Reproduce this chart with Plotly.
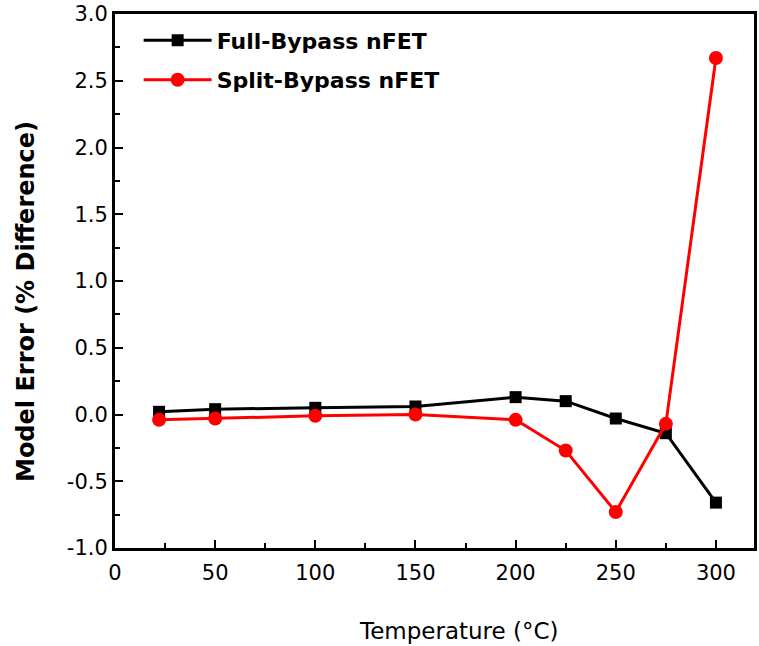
import plotly.graph_objects as go

# Temperature sweep (°C) and model error (% difference) per device type
temperature = [22, 50, 100, 150, 200, 225, 250, 275, 300]
full_bypass = [0.02, 0.04, 0.05, 0.06, 0.13, 0.10, -0.03, -0.14, -0.66]
split_bypass = [-0.04, -0.03, -0.01, 0.00, -0.04, -0.27, -0.73, -0.07, 2.67]

x_ticks = [0, 50, 100, 150, 200, 250, 300]
y_ticks = [-1.0, -0.5, 0.0, 0.5, 1.0, 1.5, 2.0, 2.5, 3.0]

FONT = "DejaVu Sans, Verdana, sans-serif"

fig = go.Figure()
fig.add_trace(go.Scatter(
    x=temperature, y=full_bypass, mode="lines+markers",
    name="<b>Full-Bypass nFET</b>", legendgroup="full",
    line=dict(color="black", width=3),
    marker=dict(symbol="square", size=12, color="black"),
))
fig.add_trace(go.Scatter(
    x=temperature, y=split_bypass, mode="lines+markers",
    name="<b>Split-Bypass nFET</b>", legendgroup="split",
    line=dict(color="#ff0000", width=3),
    marker=dict(symbol="circle", size=14, color="#ff0000"),
))

axis_common = dict(
    showline=True, linecolor="black", linewidth=3, mirror=True,
    ticks="inside", ticklen=8, tickwidth=2, tickcolor="black",
    showgrid=False, zeroline=False,
    tickfont=dict(family=FONT, size=21, color="black"),
)

fig.update_xaxes(
    range=[0, 319], tickvals=x_ticks, ticktext=[str(v) for v in x_ticks],
    minor=dict(ticks="inside", ticklen=5, tickwidth=2, tickcolor="black", dtick=25, tick0=0),
    ticklabelstandoff=4,
    **axis_common,
)
fig.update_yaxes(
    range=[-1.0, 3.0], tickvals=y_ticks, ticktext=[f"{v:.1f}" for v in y_ticks],
    minor=dict(ticks="inside", ticklen=5, tickwidth=2, tickcolor="black", dtick=0.25, tick0=0),
    **axis_common,
)

# Axis titles placed as annotations
fig.add_annotation(
    text="Temperature (°C)", xref="paper", yref="paper",
    x=0.538, y=-0.155, xanchor="center", yanchor="middle", showarrow=False,
    font=dict(family=FONT, size=23, color="black"),
)
fig.add_annotation(
    text="<b>Model Error (% Difference)</b>", xref="paper", yref="paper",
    x=-0.139, y=0.461, xanchor="center", yanchor="middle", showarrow=False,
    textangle=-90, font=dict(family=FONT, size=24, color="black"),
)

fig.update_layout(
    width=759, height=646,
    margin=dict(l=115, r=2, t=14, b=98),
    plot_bgcolor="white", paper_bgcolor="white",
    legend=dict(
        x=0.037, y=0.99, xanchor="left", yanchor="top",
        font=dict(family=FONT, size=22, color="black"),
        bgcolor="rgba(0,0,0,0)", traceorder="grouped", tracegroupgap=8,
        itemwidth=68,
    ),
    showlegend=True,
)

fig.write_html("out.html")
